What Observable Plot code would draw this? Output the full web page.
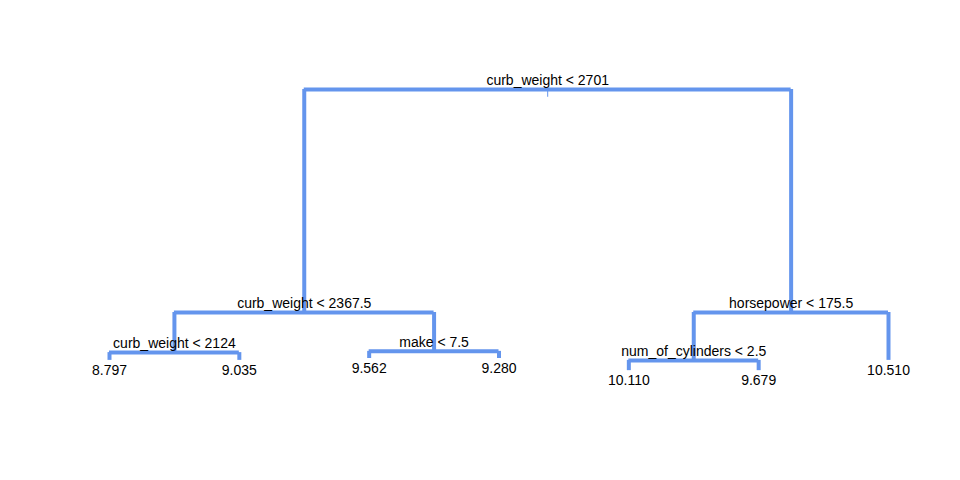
<!DOCTYPE html>
<html><head>
<script src="https://cdn.jsdelivr.net/npm/d3@7"></script>
<script src="https://cdn.jsdelivr.net/npm/@observablehq/plot@0.6"></script>
<style>body{margin:0;background:#fff}</style>
</head><body><div id="chart"></div>
<script>
// tree nodes (preorder): label, parent index, node height (deviance-like units)
const labels = ["curb_weight < 2701","curb_weight < 2367.5","curb_weight < 2124","8.797","9.035","make < 7.5","9.562","9.280","horsepower < 175.5","num_of_cylinders < 2.5","10.110","9.679","10.510"]
const parent = [-1,0,1,2,2,1,5,5,0,8,9,9,8]
const dev = [100,28.3,15.4,12.9,12.9,15.8,13.5,13.5,28.3,12.9,9.6,9.6,12.9]

const nodes = labels.map((l, i) => ({label: l, parent: parent[i], y: dev[i], kids: []}))
nodes.forEach((n, i) => { if (n.parent >= 0) nodes[n.parent].kids.push(i) })
let leaf = 0
function place(i) {
  const n = nodes[i]
  if (!n.kids.length) { n.x = ++leaf; return n.x }
  const xs = n.kids.map(place)
  n.x = (xs[0] + xs[xs.length - 1]) / 2
  return n.x
}
place(0)

const horiz = [], vert = []
nodes.forEach(n => {
  if (!n.kids.length) return
  horiz.push({x1: nodes[n.kids[0]].x, x2: nodes[n.kids[n.kids.length - 1]].x, y: n.y})
  n.kids.forEach(k => vert.push({x: nodes[k].x, y1: n.y, y2: nodes[k].y}))
})
const inner = nodes.filter(n => n.kids.length)
const leaves = nodes.filter(n => !n.kids.length)
const col = "#6495ED"

const chart = Plot.plot({
  width: 960, height: 480,
  marginLeft: 109, marginRight: 72, marginTop: 89, marginBottom: 80,
  x: {domain: [1, 7], axis: null},
  y: {domain: [0, 100], axis: null},
  style: {fontFamily: "Liberation Sans, Arial, sans-serif", fontSize: "14px"},
  marks: [
    Plot.ruleY(horiz, {x1: "x1", x2: "x2", y: "y", stroke: col, strokeWidth: 4}),
    Plot.ruleX(vert, {x: "x", y1: "y1", y2: "y2", stroke: col, strokeWidth: 4}),
    Plot.ruleX([nodes[0]], {x: "x", y1: 100, y2: 97.5, stroke: col, strokeWidth: 1}),
    Plot.text(inner, {x: "x", y: "y", text: "label", dy: -9, fill: "black", fontSize: 14}),
    Plot.text(leaves, {x: "x", y: "y", text: "label", dy: 10, fill: "black", fontSize: 14})
  ]
})
d3.select('#chart').append(() => chart)
</script>
</body></html>
